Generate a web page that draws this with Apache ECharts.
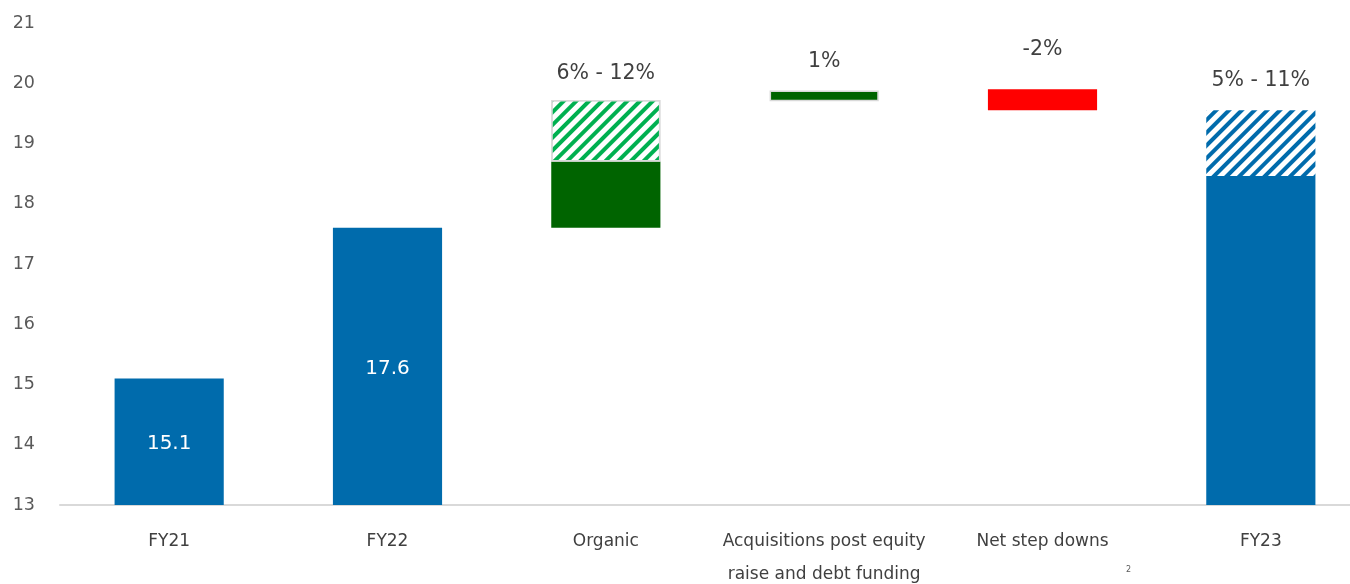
<!DOCTYPE html>
<html>
<head>
<meta charset="utf-8">
<script src="https://cdn.jsdelivr.net/npm/echarts@6/dist/echarts.min.js"></script>
<style>
html,body{margin:0;padding:0;background:#fff;}
#chart{width:1350px;height:584px;}
</style>
</head>
<body>
<div id="chart"></div>
<script>
const categories = ['FY21', 'FY22', 'Organic', 'Acquisitions post equity\nraise and debt funding', 'Net step downs', 'FY23'];
const axisMin = 13;
const axisMax = 21;
const axisStep = 1;
// floating start level of each bar (null = bar rises from the axis)
const floatBase = [null, null, 17.6, 19.7, 19.55, null];
// top of the solid part
const solidTop = [15.1, 17.6, 18.7, 19.88, null, 18.46];
// top of the hatched (range) part
const rangeTop = [null, null, 19.72, null, null, 19.55];
// top of the decline (red) bar
const declineTop = [null, null, null, null, 19.9, null];
const valueLabels = ['15.1', '17.6', null, null, null, null];
const changeLabels = [null, null, '6% - 12%', '1%', '-2%', '5% - 11%'];
const footnote = '2';

const FONT = 'DejaVu Sans';
const BLUE = '#006BAC';
const DGREEN = '#006400';
const LGREEN = '#00B050';
const RED = '#FF0000';
const BORDER = '#D9D9D9';
const solidColors = [BLUE, BLUE, DGREEN, DGREEN, null, BLUE];
const solidBorder = [false, false, false, true, false, false];
const hatchColors = [null, null, LGREEN, null, null, BLUE];
const hatchBorder = [false, false, true, false, false, false];
const labelDist = [0, 0, 16, 18, 29, 19];

const r2 = v => Math.round(v * 1000) / 1000;
const baseOf = i => floatBase[i] == null ? axisMin : floatBase[i];

const baseData = categories.map((c, i) => baseOf(i));
const topLabel = (i) => ({ show: true, position: 'top', distance: labelDist[i], formatter: changeLabels[i], color: '#404040', fontSize: 20.5, fontFamily: FONT });
const solidData = categories.map((c, i) => {
  if (solidTop[i] == null) return '-';
  const item = {
    value: r2(solidTop[i] - baseOf(i)),
    itemStyle: {
      color: solidColors[i],
      borderColor: solidBorder[i] ? BORDER : 'transparent',
      borderWidth: solidBorder[i] ? 1.5 : 0
    }
  };
  if (valueLabels[i]) {
    item.label = { show: true, position: 'inside', offset: [0, 2], formatter: valueLabels[i], color: '#fff', fontSize: 20, fontFamily: FONT };
  } else if (changeLabels[i] && rangeTop[i] == null) {
    item.label = topLabel(i);
  }
  return item;
});
const declineData = categories.map((c, i) => {
  if (declineTop[i] == null) return '-';
  const item = { value: r2(declineTop[i] - baseOf(i)), itemStyle: { color: RED } };
  if (changeLabels[i]) item.label = topLabel(i);
  return item;
});
const hatchData = categories.map((c, i) => {
  if (rangeTop[i] == null) return '-';
  const item = {
    value: r2(rangeTop[i] - solidTop[i]),
    itemStyle: {
      color: '#ffffff',
      borderColor: hatchBorder[i] ? BORDER : 'transparent',
      borderWidth: hatchBorder[i] ? 1.5 : 0,
      decal: {
        symbol: 'rect',
        symbolSize: 1,
        color: hatchColors[i],
        dashArrayX: [1, 0],
        dashArrayY: [3.5, 4.5],
        rotation: -Math.PI / 4
      }
    }
  };
  if (changeLabels[i]) item.label = topLabel(i);
  return item;
});

const chart = echarts.init(document.getElementById('chart'), null, { renderer: 'canvas' });
chart.setOption({
  animation: false,
  backgroundColor: '#ffffff',
  grid: { left: 60, top: 23, width: 1310, height: 482, containLabel: false, outerBoundsMode: 'none' },
  xAxis: {
    type: 'category',
    data: categories,
    axisLine: { lineStyle: { color: BORDER, width: 2 } },
    axisTick: { show: false },
    axisLabel: { color: '#404040', fontSize: 17, fontFamily: FONT, margin: 20, lineHeight: 33, interval: 0 },
    splitLine: { show: false }
  },
  yAxis: {
    type: 'value',
    min: axisMin,
    max: axisMax,
    interval: axisStep,
    axisLine: { show: false },
    axisTick: { show: false },
    splitLine: { show: false },
    axisLabel: { color: '#595959', fontSize: 17.5, fontFamily: FONT, margin: 25 }
  },
  series: [
    { type: 'bar', stack: 'w', barWidth: '50%', data: baseData, itemStyle: { color: 'transparent' }, silent: true },
    { type: 'bar', stack: 'w', barWidth: '50%', data: solidData },
    { type: 'bar', stack: 'w', barWidth: '50%', data: declineData },
    { type: 'bar', stack: 'w', barWidth: '50%', data: hatchData }
  ],
  graphic: [
    { type: 'text', left: 1126, top: 566, style: { text: footnote, fontSize: 8, fill: '#595959', fontFamily: FONT } }
  ]
});
</script>
</body>
</html>
